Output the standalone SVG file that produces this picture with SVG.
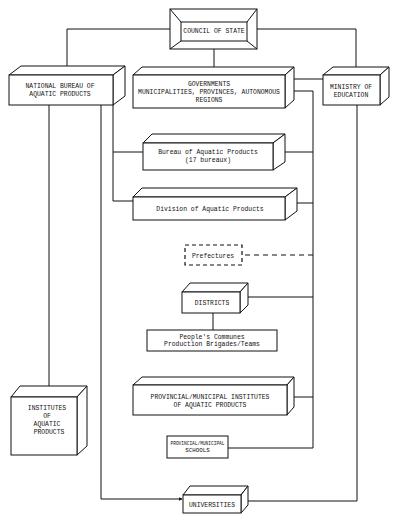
<svg xmlns="http://www.w3.org/2000/svg" width="400" height="524" viewBox="0 0 400 524">
<defs>
<style>
.b{fill:#fff;stroke:#111;stroke-width:1}
.l{fill:none;stroke:#111;stroke-width:1}
.d{fill:none;stroke:#111;stroke-width:1.2;stroke-dasharray:5,4}
text{font-family:"Liberation Mono","DejaVu Sans Mono",monospace;font-size:6.4px;fill:#111;text-anchor:middle}
.s{font-size:5.8px}
</style>
<marker id="a" viewBox="0 0 6 6" refX="5" refY="3" markerWidth="4" markerHeight="4" orient="auto">
<path d="M0,0 L6,3 L0,6 z" fill="#111"/>
</marker>
</defs>
<rect width="400" height="524" fill="#fff"/>

<g id="connectors">
<path class="l" d="M170,29 H67 V72" marker-end="url(#a)"/>
<path class="l" d="M257,29 H356 V72" marker-end="url(#a)"/>
<path class="l" d="M214,49 V72" marker-end="url(#a)"/>
<path class="l" d="M323,79 H287" marker-end="url(#a)"/>
<path class="l" d="M313,448 V91 H289" marker-end="url(#a)"/>
<path class="l" d="M313,152 H281" marker-end="url(#a)"/>
<path class="l" d="M313,203 H290" marker-end="url(#a)"/>
<path class="d" d="M313,255 H243"/>
<path class="l" d="M313,297 H244" marker-end="url(#a)"/>
<path class="l" d="M313,397 H290" marker-end="url(#a)"/>
<path class="l" d="M313,448 H228"/>
<path class="l" d="M113,105 V201 H133"/>
<path class="l" d="M113,152 H143"/>
<path class="l" d="M49,105 V392" marker-end="url(#a)"/>
<path class="l" d="M101,105 V499 H182" marker-end="url(#a)"/>
<path class="l" d="M357,105 V501 H245" marker-end="url(#a)"/>
<path class="l" d="M213,312 V330"/>
</g>

<g id="council">
<rect class="b" x="170" y="9" width="87" height="40"/>
<rect class="b" x="181" y="22" width="66" height="19"/>
<path class="l" d="M170,9 L181,22 M257,9 L247,22 M170,49 L181,41 M257,49 L247,41"/>
<text x="214" y="33">COUNCIL OF STATE</text>
</g>

<g id="national-bureau">
<path class="b" d="M9,75 L21,66 H125 L113,75 Z"/>
<path class="b" d="M113,75 L125,66 V96 L113,105 Z"/>
<rect class="b" x="9" y="75" width="104" height="30"/>
<text x="60" y="88">NATIONAL BUREAU OF</text>
<text x="60" y="96">AQUATIC PRODUCTS</text>
</g>

<g id="governments">
<path class="b" d="M133,75 L142,67 H294 L285,75 Z"/>
<path class="b" d="M285,75 L294,67 V100 L285,108 Z"/>
<rect class="b" x="133" y="75" width="152" height="33"/>
<text x="209" y="86">GOVERNMENTS</text>
<text x="209" y="94">MUNICIPALITIES, PROVINCES, AUTONOMOUS</text>
<text x="209" y="102">REGIONS</text>
</g>

<g id="ministry">
<path class="b" d="M323,75 L333,67 H389 L380,75 Z"/>
<path class="b" d="M380,75 L389,67 V97 L380,105 Z"/>
<rect class="b" x="323" y="75" width="57" height="30"/>
<text x="351" y="89">MINISTRY OF</text>
<text x="351" y="97">EDUCATION</text>
</g>

<g id="bureau-aquatic">
<path class="b" d="M143,143 L152,134 H285 L273,143 Z"/>
<path class="b" d="M273,143 L285,134 V162 L273,170 Z"/>
<rect class="b" x="143" y="143" width="130" height="27"/>
<text x="208" y="154">Bureau of Aquatic Products</text>
<text x="208" y="162">(17 bureaux)</text>
</g>

<g id="division">
<path class="b" d="M133,197 L142,188 H297 L285,197 Z"/>
<path class="b" d="M285,197 L297,188 V211 L285,220 Z"/>
<rect class="b" x="133" y="197" width="152" height="23"/>
<text x="210" y="211">Division of Aquatic Products</text>
</g>

<g id="prefectures">
<rect fill="#fff" stroke="#111" stroke-width="1.2" stroke-dasharray="4,3" x="185" y="245" width="57" height="20"/>
<text x="213" y="258">Prefectures</text>
</g>

<g id="districts">
<path class="b" d="M182,292 L190,283 H248 L240,292 Z"/>
<path class="b" d="M240,292 L248,283 V305 L240,313 Z"/>
<rect class="b" x="182" y="292" width="58" height="21"/>
<text x="212" y="305">DISTRICTS</text>
</g>

<g id="communes">
<rect class="b" x="147" y="330" width="130" height="21"/>
<text x="212" y="339">People's Communes</text>
<text x="212" y="346">Production Brigades/Teams</text>
</g>

<g id="institutes">
<path class="b" d="M11,397 L20,386 H87 L77,397 Z"/>
<path class="b" d="M77,397 L87,386 V446 L77,455 Z"/>
<rect class="b" x="11" y="397" width="66" height="58"/>
<text x="47" y="410">INSTITUTES</text>
<text x="47" y="418">OF</text>
<text x="47" y="426">AQUATIC</text>
<text x="49" y="434">PRODUCTS</text>
</g>

<g id="prov-institutes">
<path class="b" d="M133,385 L142,377 H294 L287,385 Z"/>
<path class="b" d="M287,385 L294,377 V407 L287,415 Z"/>
<rect class="b" x="133" y="385" width="154" height="30"/>
<text x="210" y="399">PROVINCIAL/MUNICIPAL INSTITUTES</text>
<text x="210" y="407">OF AQUATIC PRODUCTS</text>
</g>

<g id="prov-schools">
<rect class="b" x="167" y="436" width="61" height="22"/>
<text class="s" x="197.5" y="445" textLength="54" lengthAdjust="spacingAndGlyphs">PROVINCIAL/MUNICIPAL</text>
<text class="s" x="197.5" y="452">SCHOOLS</text>
</g>

<g id="universities">
<path class="b" d="M183,495 L190,486 H248 L241,495 Z"/>
<path class="b" d="M241,495 L248,486 V505 L241,513 Z"/>
<rect class="b" x="183" y="495" width="58" height="18"/>
<text x="212" y="507">UNIVERSITIES</text>
</g>
</svg>
